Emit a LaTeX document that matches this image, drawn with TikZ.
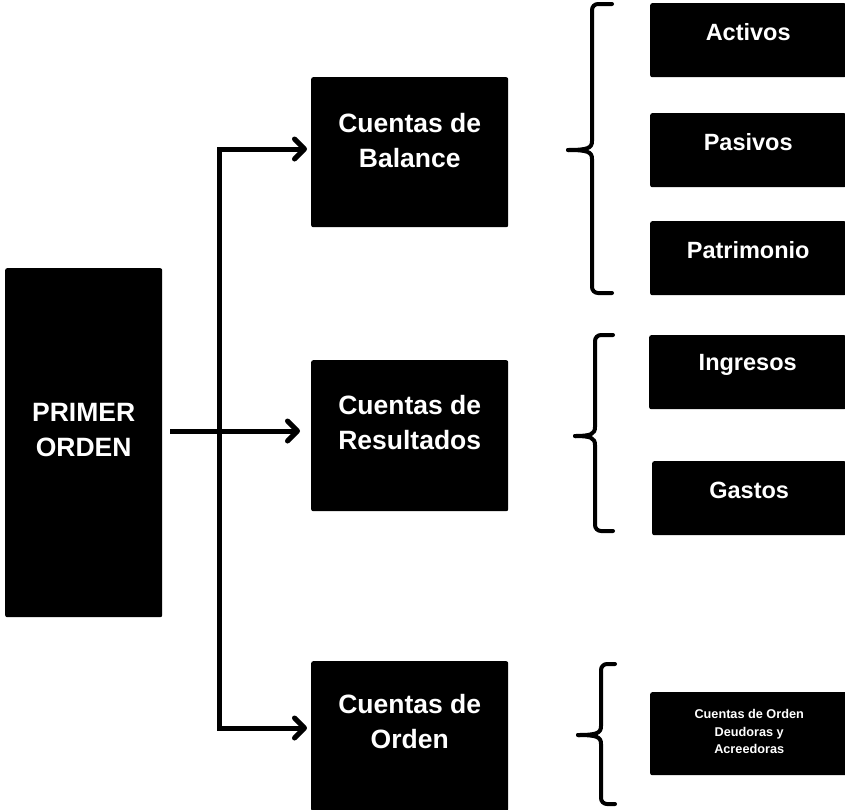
\documentclass[tikz,border=0pt]{standalone}
\usepackage{fontspec}
\setmainfont{Liberation Sans}
\usetikzlibrary{arrows.meta}
\newcommand{\drawbrace}[6]{% xv, ytop, ytip, ybot, xtip, xend
  \draw[bracestyle] (#6,#2) -- (#1+6,#2) to[out=180,in=90] (#1,#2+6) -- (#1,#3-9)
    .. controls (#1,#3-2) and (#1-4,#3) .. (#5,#3);
  \draw[bracestyle] (#6,#4) -- (#1+6,#4) to[out=180,in=-90] (#1,#4-6) -- (#1,#3+9)
    .. controls (#1,#3+2) and (#1-4,#3) .. (#5,#3);
}
\begin{document}
\begin{tikzpicture}[x=1pt,y=-1pt,
  box/.style={fill=black, draw=none, rounded corners=2pt, anchor=north west, inner sep=0pt},
  bigtxt/.style={text=white, font=\fontsize{26.5}{35}\selectfont\bfseries, align=center},
  midtxt/.style={text=white, font=\fontsize{23.5}{28}\selectfont\bfseries, align=center},
  smalltxt/.style={text=white, font=\fontsize{12.7}{17.5}\selectfont\bfseries, align=center},
  arr/.style={line width=5pt, -{Straight Barb[length=10pt,width=20pt,round]}},
  bracestyle/.style={line width=4pt, line cap=round, line join=round}]
\useasboundingbox (0,0) rectangle (845,809);

% left
\node[box, minimum width=157pt, minimum height=349pt,
  label={[bigtxt,yshift=13pt]center:{PRIMER\\ORDEN}}] (prim) at (5,268) {};

% middle
\node[box, minimum width=197pt, minimum height=150pt,
  label={[bigtxt,yshift=12pt]center:{Cuentas de\\Balance}}] (bal) at (311,77) {};
\node[box, minimum width=197pt, minimum height=151pt,
  label={[bigtxt,yshift=13pt]center:{Cuentas de\\Resultados}}] (res) at (311,360) {};
\node[box, minimum width=197pt, minimum height=150pt,
  label={[bigtxt,yshift=15pt]center:{Cuentas de\\Orden}}] (ord) at (311,661) {};

% right
\node[box, minimum width=196pt, minimum height=74pt,
  label={[midtxt,yshift=8pt]center:Activos}] (act) at (650,3) {};
\node[box, minimum width=196pt, minimum height=74pt,
  label={[midtxt,yshift=8pt]center:Pasivos}] (pas) at (650,113) {};
\node[box, minimum width=196pt, minimum height=74pt,
  label={[midtxt,yshift=8pt]center:Patrimonio}] (pat) at (650,221) {};
\node[box, minimum width=197pt, minimum height=74pt,
  label={[midtxt,yshift=7pt]center:Ingresos}] (ing) at (649,335) {};
\node[box, minimum width=194pt, minimum height=74pt,
  label={[midtxt,yshift=8pt]center:Gastos}] (gas) at (652,461) {};
\node[box, minimum width=198pt, minimum height=83pt,
  label={[smalltxt,yshift=2pt]center:{Cuentas de Orden\\Deudoras y\\Acreedoras}}] (cdo) at (650,692) {};

% connectors
\coordinate (jn) at (219,431);
\coordinate (vtop) at (219,149);
\coordinate (vbot) at (219,728);
\draw[arr, shorten >=4pt] (jn) |- (bal.west |- vtop);
\draw[arr, shorten >=4pt] (jn) |- (ord.west |- vbot);
\draw[arr, shorten <=8pt, shorten >=11pt] (prim.east |- jn) -- (res.west |- jn);

% braces
\drawbrace{592}{4}{150}{293}{568}{612}
\drawbrace{595}{335}{436}{531}{575}{613}
\drawbrace{601}{664}{735}{804}{578}{615}
\end{tikzpicture}
\end{document}
